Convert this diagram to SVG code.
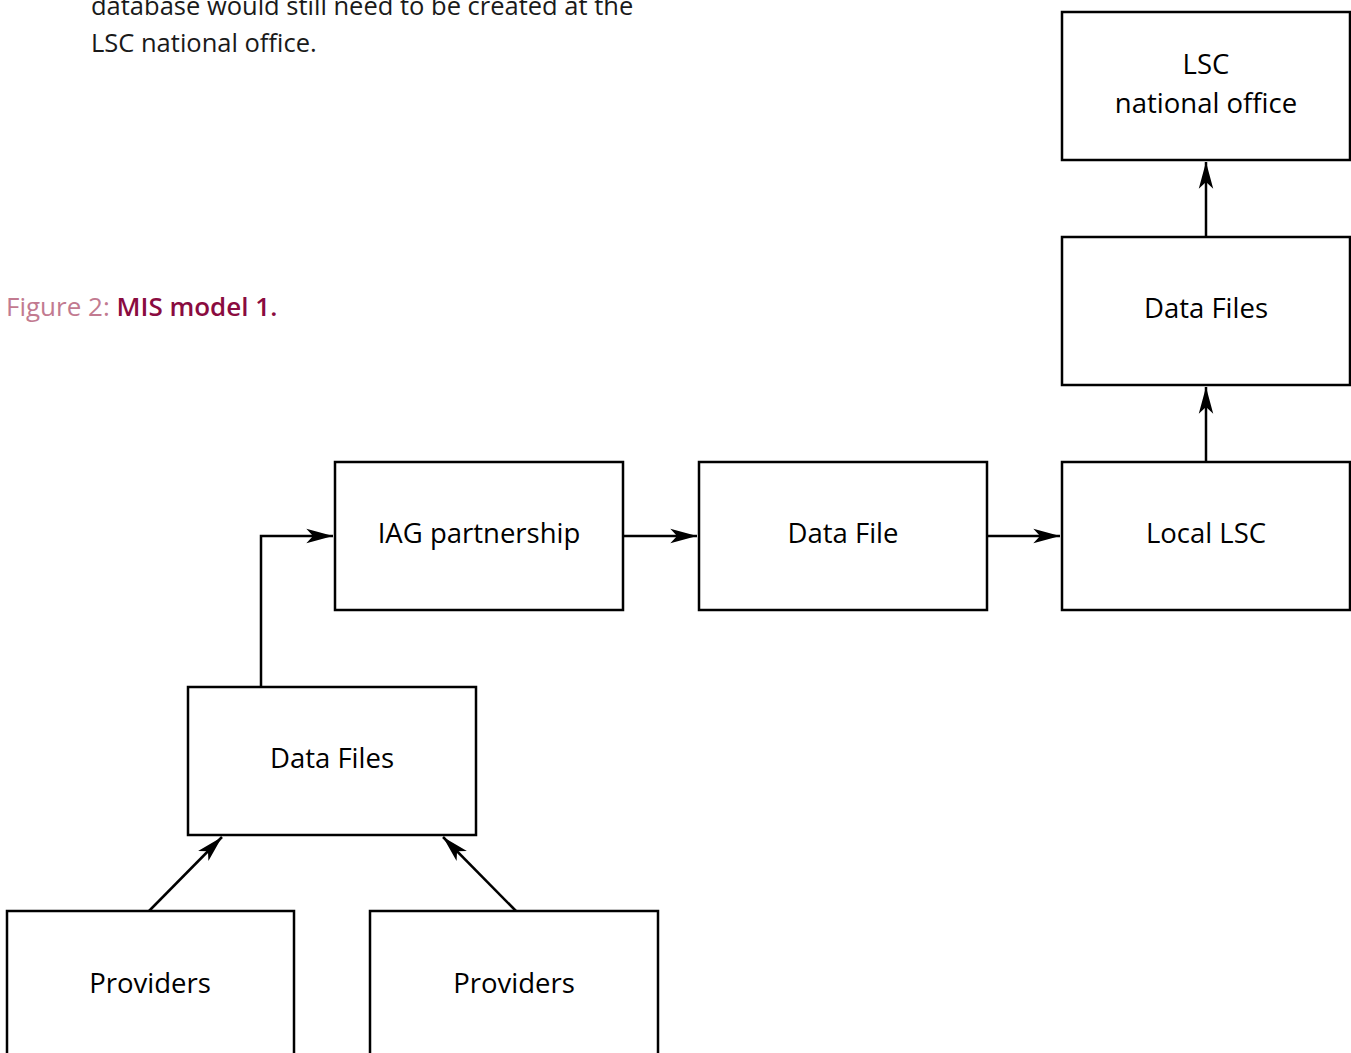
<svg xmlns="http://www.w3.org/2000/svg" width="1351" height="1053" viewBox="0 0 1351 1053">
<style>
.box{fill:#fff;stroke:#000;stroke-width:2.5}
.lbl{font-family:"Open Sans","Noto Sans",sans-serif;font-size:27.5px;fill:#000;text-anchor:middle}
.body{font-family:"Open Sans","Noto Sans",sans-serif;font-size:25.5px;fill:#1a1a1a}
.cap{font-family:"Open Sans","Noto Sans",sans-serif;font-size:26px}
.conn{fill:none;stroke:#000;stroke-width:2.5;marker-end:url(#ah)}
</style>
<defs>
<marker id="ah" markerUnits="userSpaceOnUse" markerWidth="30" markerHeight="20" viewBox="-25 -8 27 16" refX="0" refY="0" orient="auto">
<path d="M0,0 L-24,-6.5 L-18,0 L-24,6.5 Z" fill="#000"/>
</marker>
</defs>
<rect width="1351" height="1053" fill="#fff"/>
<text class="body" x="91" y="15">database would still need to be created at the</text>
<text class="body" x="91" y="52">LSC national office.</text>
<text class="cap" x="6" y="316"><tspan fill="#c27a90" font-weight="500">Figure 2: </tspan><tspan fill="#8a0b40" font-weight="600">MIS model 1.</tspan></text>
<g id="connectors">
<path class="conn" d="M261,687 V536 H333"/>
<path class="conn" d="M623,536 H697"/>
<path class="conn" d="M987,536 H1060"/>
<path class="conn" d="M1206,462 V387"/>
<path class="conn" d="M1206,237 V162"/>
<path class="conn" d="M149,911 L222,837"/>
<path class="conn" d="M516,911 L443,837"/>
</g>
<g id="n-lsc-national"><rect class="box" x="1062" y="12" width="288" height="148"/><text class="lbl" x="1206" y="74">LSC</text><text class="lbl" x="1206" y="113">national office</text></g>
<g id="n-datafiles-top"><rect class="box" x="1062" y="237" width="288" height="148"/><text class="lbl" x="1206" y="318">Data Files</text></g>
<g id="n-local-lsc"><rect class="box" x="1062" y="462" width="288" height="148"/><text class="lbl" x="1206" y="543">Local LSC</text></g>
<g id="n-datafile"><rect class="box" x="699" y="462" width="288" height="148"/><text class="lbl" x="843" y="543">Data File</text></g>
<g id="n-iag"><rect class="box" x="335" y="462" width="288" height="148"/><text class="lbl" x="479" y="543">IAG partnership</text></g>
<g id="n-datafiles-bottom"><rect class="box" x="188" y="687" width="288" height="148"/><text class="lbl" x="332" y="768">Data Files</text></g>
<g id="n-providers-left"><rect class="box" x="7" y="911" width="287" height="160"/><text class="lbl" x="150" y="993">Providers</text></g>
<g id="n-providers-right"><rect class="box" x="370" y="911" width="288" height="160"/><text class="lbl" x="514" y="993">Providers</text></g>
</svg>
